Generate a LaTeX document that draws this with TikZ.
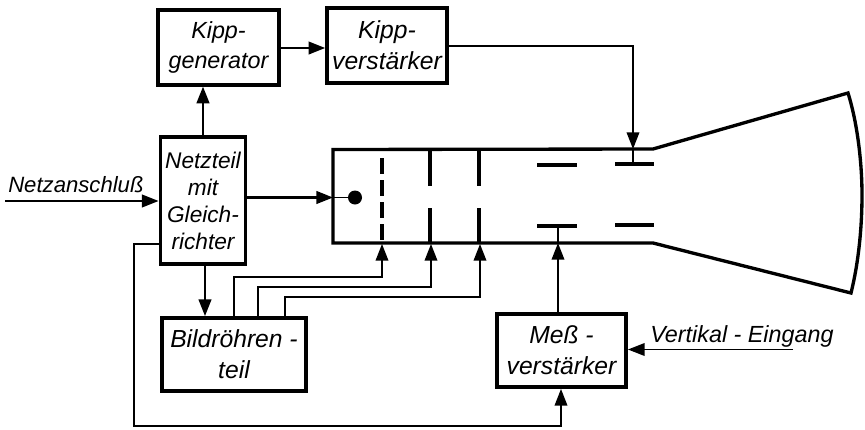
\documentclass[tikz,border=0pt]{standalone}
\usepackage{fontspec}
\setmainfont{Liberation Sans}
\usetikzlibrary{arrows.meta,calc}
\tikzset{
  px/.style={x=0.75pt,y=-0.75pt},
  blk/.style={draw=black,line width=2.7pt,inner sep=0pt,align=center,font=\fontsize{18.5}{23.5}\selectfont\itshape},
  lbl/.style={inner sep=0pt,font=\fontsize{16.6}{20}\selectfont\itshape},
  wire/.style={draw=black,line width=1.1pt},
  flow/.style={draw=black,line width=1.6pt,-{Triangle[length=12.5pt,width=9.5pt]}},
  thin wire/.style={draw=black,line width=1.1pt,-{Triangle[length=12.5pt,width=9.5pt]}},
  wall/.style={draw=black,line width=2.5pt,line join=miter},
  electrode/.style={draw=black,line width=2.5pt},
}
\begin{document}
\begin{tikzpicture}[px]
\useasboundingbox (0,0) rectangle (865,429);
% blocks
\node[blk,font=\fontsize{17.5}{23}\selectfont\itshape,minimum width=91pt,minimum height=56pt] (kg) at (218.5,47.5) {Kipp-\\generator};
\node[blk,minimum width=90pt,minimum height=56pt] (kv) at (387,45.5) {Kipp-\\verstärker};
\node[blk,font=\fontsize{17}{20.3}\selectfont\itshape,minimum width=64pt,minimum height=95pt] (nt) at (203,200.5) {Netzteil\\mit\\Gleich-\\richter};
\node[blk,minimum width=108pt,minimum height=55pt] (br) at (234,354.5) {Bildröhren -\\teil\hspace{14pt}};
\node[blk,minimum width=97pt,minimum height=55pt] (mv) at (561.5,350.5) {Meß -\\verstärker};
% labels
\node[lbl,anchor=base west] (nl) at (8,192) {Netzanschluß};
\node[lbl,font=\fontsize{17.5}{20}\selectfont\itshape,anchor=base west] (vl) at (650,342) {Vertikal - Eingang};
% tube
\draw[wall] (848,93) -- (653,149) -- (333,149.5) -- (333,243) -- (653,243) -- (851,293) .. controls (858,265) and (862,230) .. (862,195) .. controls (862,165) and (858,125) .. (848,93) -- cycle;
\coordinate (tubeL) at (333,197.5);
\coordinate (gunTop) at (633,149);
\coordinate (g1) at (382,244);
\coordinate (g2) at (431,244);
\coordinate (g3) at (480,244);
\coordinate (d1) at (558,243);
% cathode
\node[circle,fill=black,minimum size=10.5pt,inner sep=0pt] (cath) at (355,197.5) {};
% grid electrodes
\draw[electrode,dash pattern=on 12pt off 4.5pt] (382,158) -- (382,240);
\draw[electrode] (430,150) -- (430,186) (430,208) -- (430,243);
\draw[electrode] (479,150) -- (479,186) (479,208) -- (479,243);
% deflection plates
\draw[electrode] (537,165) -- (577,165) (537,226) -- (577,226);
\draw[electrode] (615,164) -- (654,164) (615,225) -- (654,225);
% connectors
\path[flow] (nt.north -| 203,137) -- (kg.south -| 203,86);
\path[flow] (kg.east |- 0,48) -- (kv.west |- 0,48);
\path[thin wire] (kv.east |- 0,46) -- (633,46) -- (gunTop);
\draw[wire] (gunTop) -- (633,164);
\path[flow] (0,201) ++(5,0) coordinate (netz) (netz) -- (nt.west |- netz);
\path[flow] (nt.east |- tubeL) -- (tubeL);
\draw[wire] (tubeL) -- (cath);
\path[flow] (nt.south -| 205,0) -- (br.north -| 205,0);
\path[thin wire] (br.north -| 234,0) -- (234,277) -- (382,277) -- (g1);
\path[thin wire] (br.north -| 258,0) -- (258,287) -- (431,287) -- (g2);
\path[thin wire] (br.north -| 285,0) -- (285,297) -- (480,297) -- (g3);
\path[thin wire] (mv.north -| d1) -- (d1);
\draw[wire] (d1) -- (558,226);
\path[thin wire] (793,349.5) coordinate (vin) -- (mv.east |- vin);
\path[thin wire] (nt.west |- 0,244) -- (134,244) -- (134,426) -- (561,426) -- (mv.south -| 561,0);
\end{tikzpicture}
\end{document}
